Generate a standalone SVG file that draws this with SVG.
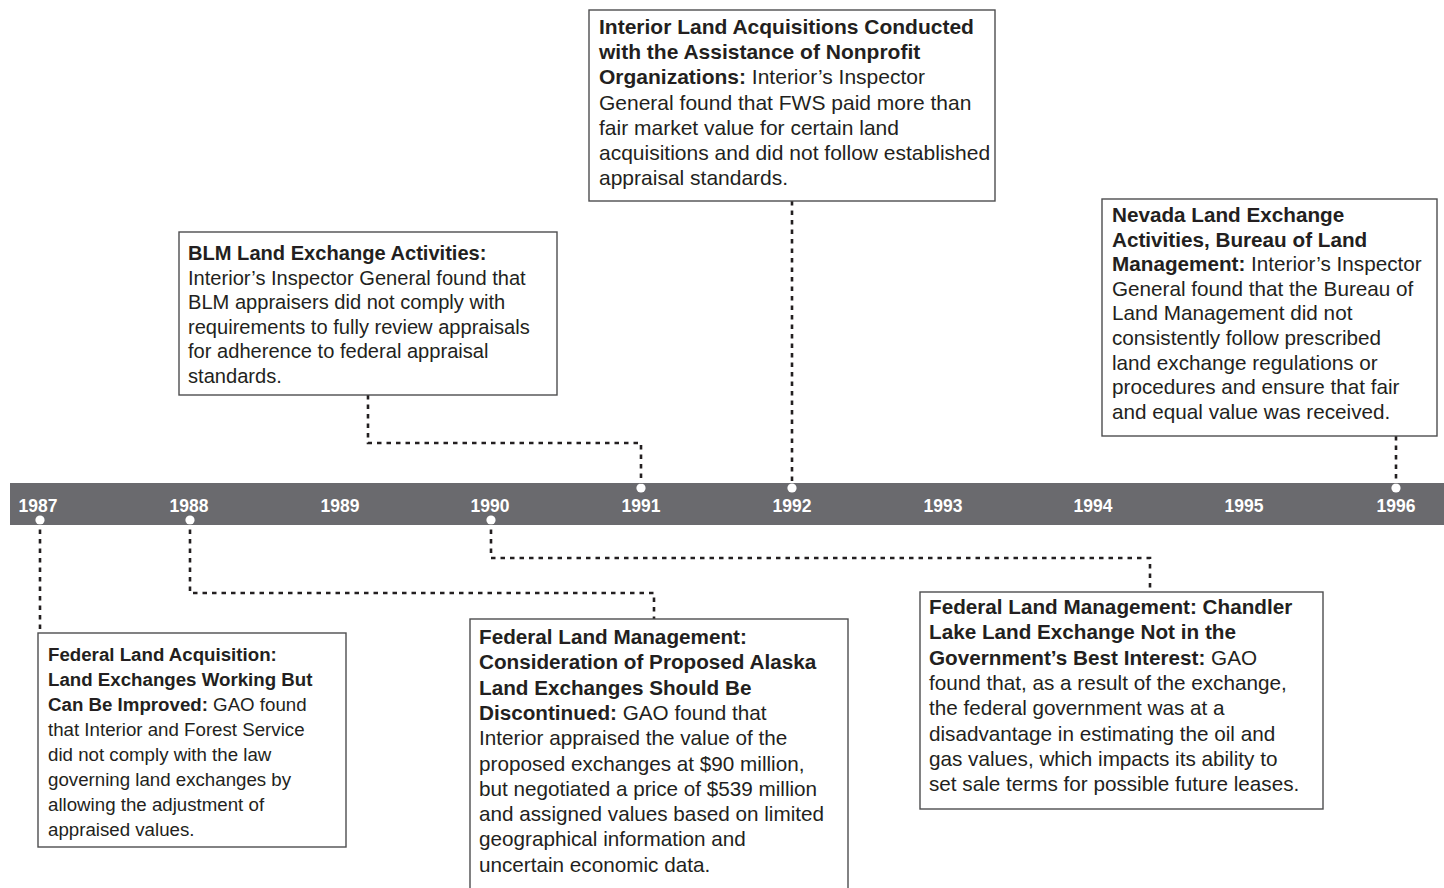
<svg xmlns="http://www.w3.org/2000/svg" width="1444" height="888" viewBox="0 0 1444 888">
<style>
.box{fill:#fff;stroke:#4d4d4f;stroke-width:1.4}
.t{font-family:"Liberation Sans",Arial,sans-serif;font-size:20.7px;fill:#231f20}
.b{font-weight:bold}
.yr{font-family:"Liberation Sans",Arial,sans-serif;font-size:17.5px;font-weight:bold;fill:#fff;text-anchor:middle}
.con{fill:none;stroke:#231f20;stroke-width:2.6;stroke-dasharray:4.5 5}
.dot{fill:#fff}
</style>
<rect width="1444" height="888" fill="#fff"/>
<g id="timeline">
<rect x="10" y="483" width="1434" height="42" fill="#6a6a6e"/>
<text class="yr" x="38" y="512">1987</text>
<text class="yr" x="189" y="512">1988</text>
<text class="yr" x="340" y="512">1989</text>
<text class="yr" x="490" y="512">1990</text>
<text class="yr" x="641" y="512">1991</text>
<text class="yr" x="792" y="512">1992</text>
<text class="yr" x="943" y="512">1993</text>
<text class="yr" x="1093" y="512">1994</text>
<text class="yr" x="1244" y="512">1995</text>
<text class="yr" x="1396" y="512">1996</text>
</g>
<g id="connectors">
<path class="con" d="M40 520 V633"/>
<path class="con" d="M190 520 V593 H654 V619"/>
<path class="con" d="M491 520 V558 H1150 V592"/>
<path class="con" d="M368 395 V443 H641 V488"/>
<path class="con" d="M792 201 V488"/>
<path class="con" d="M1396 436 V488"/>
<circle class="dot" cx="40" cy="520" r="4.6"/>
<circle class="dot" cx="190" cy="520" r="4.6"/>
<circle class="dot" cx="491" cy="520" r="4.6"/>
<circle class="dot" cx="641" cy="488" r="4.6"/>
<circle class="dot" cx="792" cy="488" r="4.6"/>
<circle class="dot" cx="1396" cy="488" r="4.6"/>
</g>
<g id="node-1992">
<rect class="box" x="589" y="10" width="406" height="191"/>
<text class="t" style="font-size:21px"><tspan class="b" x="599" y="34">Interior Land Acquisitions Conducted</tspan><tspan class="b" x="599" y="59.2">with the Assistance of Nonprofit</tspan><tspan x="599" y="84.4"><tspan class="b">Organizations:</tspan> Interior’s Inspector</tspan><tspan x="599" y="109.6">General found that FWS paid more than</tspan><tspan x="599" y="134.8">fair market value for certain land</tspan><tspan x="599" y="160">acquisitions and did not follow established</tspan><tspan x="599" y="185.2">appraisal standards.</tspan></text>
</g>
<g id="node-1991">
<rect class="box" x="179" y="232" width="378" height="163"/>
<text class="t" style="font-size:20.1px"><tspan class="b" x="188" y="260">BLM Land Exchange Activities:</tspan><tspan x="188" y="284.6">Interior’s Inspector General found that</tspan><tspan x="188" y="309.2">BLM appraisers did not comply with</tspan><tspan x="188" y="333.8">requirements to fully review appraisals</tspan><tspan x="188" y="358.4">for adherence to federal appraisal</tspan><tspan x="188" y="383">standards.</tspan></text>
</g>
<g id="node-1996">
<rect class="box" x="1102" y="199" width="335" height="237"/>
<text class="t"><tspan class="b" x="1112" y="222">Nevada Land Exchange</tspan><tspan class="b" x="1112" y="246.6">Activities, Bureau of Land</tspan><tspan x="1112" y="271.2"><tspan class="b">Management:</tspan> Interior’s Inspector</tspan><tspan x="1112" y="295.8">General found that the Bureau of</tspan><tspan x="1112" y="320.4">Land Management did not</tspan><tspan x="1112" y="345">consistently follow prescribed</tspan><tspan x="1112" y="369.6">land exchange regulations or</tspan><tspan x="1112" y="394.2">procedures and ensure that fair</tspan><tspan x="1112" y="418.8">and equal value was received.</tspan></text>
</g>
<g id="node-1987">
<rect class="box" x="38" y="633" width="308" height="214"/>
<text class="t" style="font-size:18.7px"><tspan class="b" x="48" y="661">Federal Land Acquisition:</tspan><tspan class="b" x="48" y="686">Land Exchanges Working But</tspan><tspan x="48" y="711"><tspan class="b">Can Be Improved:</tspan> GAO found</tspan><tspan x="48" y="736">that Interior and Forest Service</tspan><tspan x="48" y="761">did not comply with the law</tspan><tspan x="48" y="786">governing land exchanges by</tspan><tspan x="48" y="811">allowing the adjustment of</tspan><tspan x="48" y="836">appraised values.</tspan></text>
</g>
<g id="node-1988">
<rect class="box" x="470" y="619" width="378" height="280"/>
<text class="t"><tspan class="b" x="479" y="644">Federal Land Management:</tspan><tspan class="b" x="479" y="669.3">Consideration of Proposed Alaska</tspan><tspan class="b" x="479" y="694.6">Land Exchanges Should Be</tspan><tspan x="479" y="719.9"><tspan class="b">Discontinued:</tspan> GAO found that</tspan><tspan x="479" y="745.2">Interior appraised the value of the</tspan><tspan x="479" y="770.5">proposed exchanges at $90 million,</tspan><tspan x="479" y="795.8">but negotiated a price of $539 million</tspan><tspan x="479" y="821.1">and assigned values based on limited</tspan><tspan x="479" y="846.4">geographical information and</tspan><tspan x="479" y="871.7">uncertain economic data.</tspan></text>
</g>
<g id="node-1990">
<rect class="box" x="920" y="592" width="403" height="217"/>
<text class="t"><tspan class="b" x="929" y="614">Federal Land Management: Chandler</tspan><tspan class="b" x="929" y="639.3">Lake Land Exchange Not in the</tspan><tspan x="929" y="664.6"><tspan class="b">Government’s Best Interest:</tspan> GAO</tspan><tspan x="929" y="689.9">found that, as a result of the exchange,</tspan><tspan x="929" y="715.2">the federal government was at a</tspan><tspan x="929" y="740.5">disadvantage in estimating the oil and</tspan><tspan x="929" y="765.8">gas values, which impacts its ability to</tspan><tspan x="929" y="791.1">set sale terms for possible future leases.</tspan></text>
</g>
</svg>
